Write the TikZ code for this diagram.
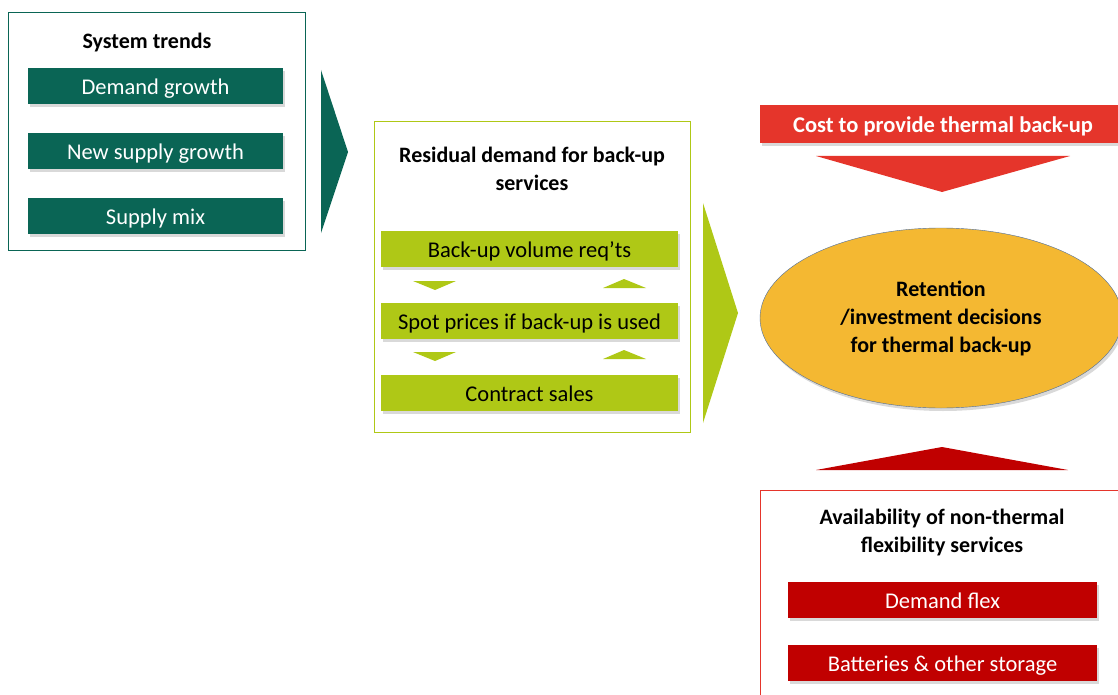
\documentclass[tikz,border=0pt]{standalone}
\usepackage{fontspec}
\setmainfont{Carlito}
\usetikzlibrary{shadows,shapes.geometric}
\definecolor{trendgreen}{HTML}{0A6555}
\definecolor{limegreen}{HTML}{AFC816}
\definecolor{costred}{HTML}{E5352B}
\definecolor{flexred}{HTML}{C00000}
\definecolor{decisionfill}{HTML}{F4B832}
\definecolor{decisionline}{HTML}{4F6E9C}

\tikzset{
  panel/.style={draw, line width=0.8pt, inner sep=0pt},
  bar/.style={minimum height=36pt, inner sep=0pt, text height=17pt, text depth=0pt,
              font=\fontsize{22.5}{26}\selectfont,
              drop shadow={shadow xshift=2pt, shadow yshift=-3pt, opacity=0.3}},
  heading/.style={align=center, font=\fontsize{22}{28}\selectfont\bfseries}
}

\begin{document}
\begin{tikzpicture}[x=1pt, y=-1pt]
        \useasboundingbox (0,0) rectangle (1118,695);

        % system trends
        \node[panel, draw=trendgreen, minimum width=297pt, minimum height=238pt] (trends) at (156.5,131) {};
        \node[heading] (trendstitle) at (147,43) {System trends};
        \node[bar, fill=trendgreen, text=white, minimum width=255pt] (demand) at (155.5,86) {Demand growth};
        \node[bar, fill=trendgreen, text=white, minimum width=255pt] (supply) at (155.5,151) {New supply growth};
        \node[bar, fill=trendgreen, text=white, minimum width=255pt] (mix) at (155.5,216) {Supply mix};
        \fill[trendgreen] (321,70) -- (348,152) -- (321,233) -- cycle;

        % residual demand
        \node[panel, draw=limegreen, minimum width=316pt, minimum height=311pt] (residual) at (532,276.5) {};
        \node[heading] (residualtitle) at (532,169) {Residual demand for back-up\\services};
        \node[bar, fill=limegreen, minimum width=297pt] (volume) at (529.5,248.5) {Back-up volume req’ts};
        \node[bar, fill=limegreen, minimum width=297pt] (spot) at (529.5,320.5) {Spot prices if back-up is used};
        \node[bar, fill=limegreen, minimum width=297pt] (contract) at (529.5,392.5) {Contract sales};
        \fill[limegreen] (413,281) -- (456,281) -- (435,290) -- cycle;
        \fill[limegreen] (603,288) -- (646,288) -- (624,279) -- cycle;
        \fill[limegreen] (413,352) -- (456,352) -- (435,361) -- cycle;
        \fill[limegreen] (603,359) -- (646,359) -- (624,350) -- cycle;
        \fill[limegreen] (703,203) -- (738,313) -- (703,423) -- cycle;

        % cost and decisions
        \node[bar, fill=costred, text=white, minimum width=366pt, minimum height=38pt,
              font=\fontsize{22.5}{26}\selectfont\bfseries] (cost) at (943,124) {Cost to provide thermal back-up};
        \fill[costred] (816,156) -- (1070,156) -- (942,192) -- cycle;
        \node[ellipse, draw=decisionline, fill=decisionfill, minimum width=362pt, minimum height=180pt,
              heading, drop shadow={shadow xshift=2pt, shadow yshift=-3pt, opacity=0.3}] (decision) at (941,318)
              {Retention\\/investment decisions\\for thermal back-up};
        \fill[flexred] (816,470) -- (1068,470) -- (942,447) -- cycle;

        % non-thermal flexibility
        \node[panel, draw=costred, minimum width=366pt, minimum height=215pt] (flex) at (943,597.5) {};
        \node[heading] (flextitle) at (942,533) {Availability of non-thermal\\flexibility services};
        \node[bar, fill=flexred, text=white, minimum width=309pt] (demandflex) at (942.5,600) {Demand flex};
        \node[bar, fill=flexred, text=white, minimum width=309pt] (storage) at (942.5,663) {Batteries \& other storage};
\end{tikzpicture}
\end{document}
